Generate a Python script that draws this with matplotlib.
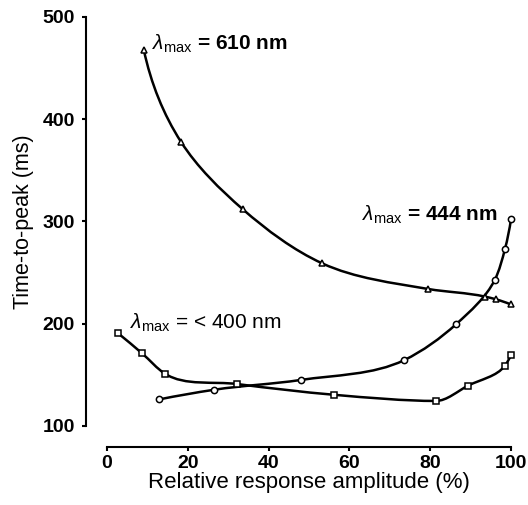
import numpy as np
import matplotlib
matplotlib.use('Agg')
import matplotlib.pyplot as plt
from matplotlib.path import Path
from matplotlib.patches import PathPatch

plt.rcParams['font.family'] = ['Liberation Sans', 'DejaVu Sans']
plt.rcParams['mathtext.fontset'] = 'custom'
plt.rcParams['mathtext.rm'] = 'Liberation Sans'
plt.rcParams['mathtext.it'] = 'Liberation Sans:italic'
plt.rcParams['mathtext.bf'] = 'Liberation Sans:bold'

# данные
amp_610 = [9.1, 18.3, 33.6, 53.3, 79.5, 93.6, 96.2, 99.9]
ttp_610 = [468, 378, 312, 259, 234, 226.5, 224, 219]

amp_444 = [12.9, 26.6, 47.9, 73.6, 86.4, 96.0, 98.5, 100.0]
ttp_444 = [126, 135.5, 145, 164.5, 199.5, 243, 273, 302.5]

amp_400 = [2.8, 8.7, 14.4, 32.3, 56.3, 81.4, 89.4, 98.5, 100.0]
ttp_400 = [190.5, 171, 151, 141, 130.5, 124.5, 139.5, 159, 169.5]

x_ticks = [0, 20, 40, 60, 80, 100]
y_ticks = [100, 200, 300, 400, 500]


# гладкая кривая через точки (кубические Безье, касательные по Бесселю)
def smooth_path(xs, ys):
    sx, sy = 100.0, 400.0
    P = np.column_stack([np.array(xs) / sx, np.array(ys) / sy])
    n = len(P)
    h = np.linalg.norm(P[1:] - P[:-1], axis=1)
    s = (P[1:] - P[:-1]) / h[:, None]
    T = np.zeros_like(P)
    for i in range(1, n - 1):
        T[i] = (h[i] * s[i - 1] + h[i - 1] * s[i]) / (h[i - 1] + h[i])
        # в точке экстремума касательная горизонтальна
        if s[i - 1][1] * s[i][1] < 0:
            T[i][1] = 0
    T[0] = 2 * s[0] - T[1]
    T[-1] = 2 * s[-1] - T[-2]
    verts = [P[0]]
    codes = [Path.MOVETO]
    for i in range(n - 1):
        verts += [P[i] + T[i] * h[i] / 3, P[i + 1] - T[i + 1] * h[i] / 3, P[i + 1]]
        codes += [Path.CURVE4] * 3
    verts = np.array(verts) * [sx, sy]
    return Path(verts, codes)


f = plt.figure(figsize=(5.28, 5.05), dpi=100)
ax = f.add_axes([107 / 528, 79 / 505, 404 / 528, 409 / 505])

for xs, ys, m in [(amp_610, ttp_610, '^'), (amp_444, ttp_444, 'o'), (amp_400, ttp_400, 's')]:
    ax.add_patch(PathPatch(smooth_path(xs, ys), fill=False, lw=1.8, ec='black',
                           capstyle='round', clip_on=False))
    ax.plot(xs, ys, ls='none', marker=m, ms=4.5, mfc='white', mec='black', mew=1.1,
            clip_on=False, zorder=3)

ax.set_xlim(0, 100)
ax.set_ylim(100, 500)
ax.set_xticks(x_ticks)
ax.set_yticks(y_ticks)

for s in ['top', 'right']:
    ax.spines[s].set_visible(False)
ax.spines['left'].set_position(('outward', 15))
ax.spines['bottom'].set_position(('outward', 15))
ax.spines['left'].set_linewidth(1.5)
ax.spines['bottom'].set_linewidth(1.5)
ax.tick_params(direction='out', length=3, width=1.5, labelsize=14)
ax.tick_params(axis='y', pad=5)
ax.tick_params(axis='x', pad=3)
for lab in ax.get_xticklabels() + ax.get_yticklabels():
    lab.set_fontweight('bold')

ax.set_xlabel('Relative response amplitude (%)', fontsize=16, labelpad=0)
ax.set_ylabel('Time-to-peak (ms)', fontsize=15.5, labelpad=6)

ax.text(11.1, 468, r'$\lambda_{\mathrm{max}}$ = 610 nm', fontsize=15, fontweight='bold', va='baseline')
ax.text(63.1, 300.5, r'$\lambda_{\mathrm{max}}$ = 444 nm', fontsize=15, fontweight='bold', va='baseline')
ax.text(5.7, 195, r'$\lambda_{\mathrm{max}}$ = < 400 nm', fontsize=15, va='baseline')

f.savefig('out.png', dpi=100)
